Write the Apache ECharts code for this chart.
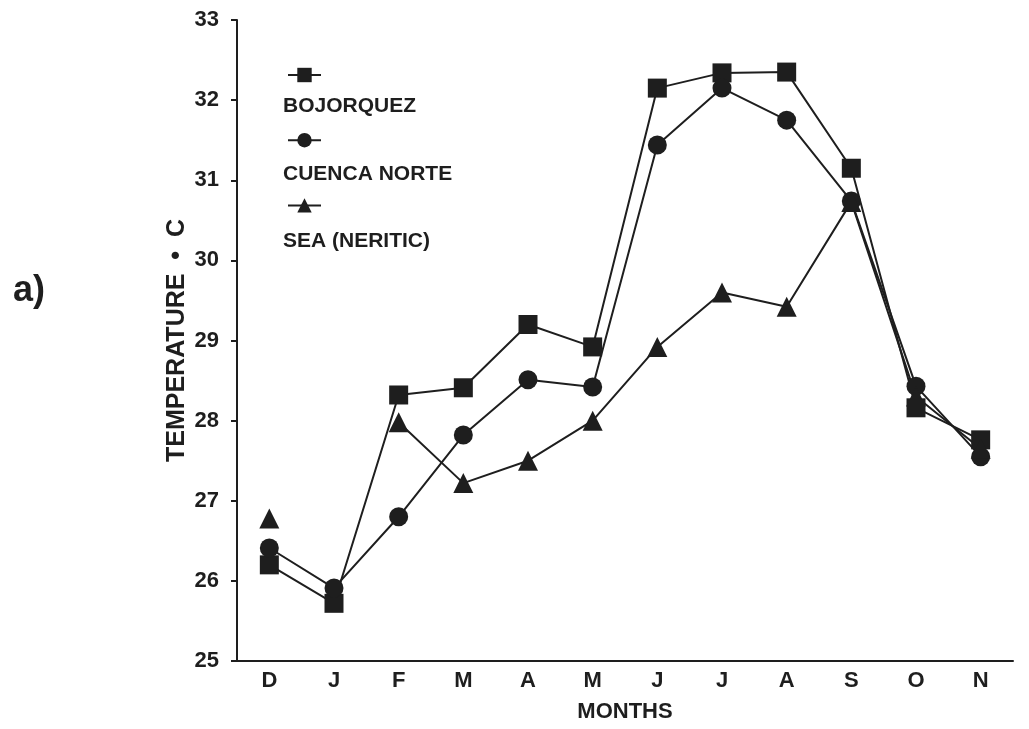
<!DOCTYPE html>
<html>
<head>
<meta charset="utf-8">
<script src="https://cdn.jsdelivr.net/npm/echarts@6/dist/echarts.min.js"></script>
<style>
html,body{margin:0;padding:0;background:#fff;}
#c{width:1029px;height:729px;}
</style>
</head>
<body>
<div id="c"></div>
<script>
var months = ['D','J','F','M','A','M','J','J','A','S','O','N'];
var yTicks = [25,26,27,28,29,30,31,32,33];
var bojorquez = [26.2, 25.72, 28.32, 28.41, 29.2, 28.92, 32.15, 32.34, 32.35, 31.15, 28.16, 27.76];
var cuencaNorte = [26.41, 25.91, 26.8, 27.82, 28.51, 28.42, 31.44, 32.15, 31.75, 30.74, 28.43, 27.55];
var seaNeritic = [26.78, null, 27.98, 27.22, 27.5, 28.0, 28.92, 29.6, 29.42, 30.73, 28.3, 27.65];
var seriesNames = ['BOJORQUEZ', 'CUENCA NORTE', 'SEA (NERITIC)'];

var ink = '#1e1e1e';
var font = '"Liberation Sans", Arial, sans-serif';

function mkSeries(name, data, symbol, size) {
  return {
    name: name, type: 'line', data: data, symbol: symbol, symbolSize: size,
    showAllSymbol: true, connectNulls: false,
    lineStyle: {color: ink, width: 2},
    itemStyle: {color: ink, borderWidth: 0},
    emphasis: {disabled: true}
  };
}

var chart = echarts.init(document.getElementById('c'), null, {renderer: 'canvas'});
chart.setOption({
  animation: false,
  backgroundColor: '#fff',
  title: {
    text: 'a)', left: 8, top: 268,
    textStyle: {fontFamily: font, fontWeight: 'bold', fontSize: 36, color: ink}
  },
  grid: {left: 237, right: 16, top: 20, bottom: 68, containLabel: false},
  legend: {
    orient: 'vertical', left: 282, top: 61, itemGap: 49,
    itemWidth: 33, itemHeight: 18,
    data: seriesNames,
    formatter: function () { return ''; },
    textStyle: {fontSize: 1},
    selectedMode: false
  },
  graphic: seriesNames.map(function (n, i) {
    return {
      type: 'text', left: 283, top: 96 + i * 67.5,
      style: {text: n, fontFamily: font, fontWeight: 'bold', fontSize: 21, fill: ink}
    };
  }),
  xAxis: {
    type: 'category', data: months, boundaryGap: true,
    name: 'MONTHS', nameLocation: 'middle', nameGap: 40,
    nameTextStyle: {fontFamily: font, fontWeight: 'bold', fontSize: 22, color: ink},
    axisLine: {lineStyle: {color: ink, width: 2}},
    axisTick: {alignWithLabel: true, length: 6, lineStyle: {color: ink, width: 2}},
    axisLabel: {margin: 9, fontFamily: font, fontWeight: 'bold', fontSize: 22, color: ink},
    splitLine: {show: false}
  },
  yAxis: {
    type: 'value', min: yTicks[0], max: yTicks[yTicks.length - 1], interval: 1,
    name: 'TEMPERATURE  •  C', nameLocation: 'middle', nameGap: 47, nameRotate: 90,
    nameMoveOverlap: false,
    nameTextStyle: {fontFamily: font, fontWeight: 'bold', fontSize: 25, color: ink},
    axisLine: {show: true, lineStyle: {color: ink, width: 2}},
    axisTick: {show: true, length: 6, lineStyle: {color: ink, width: 2}},
    axisLabel: {margin: 18, fontFamily: font, fontWeight: 'bold', fontSize: 22, color: ink},
    splitLine: {show: false}
  },
  series: [
    mkSeries(seriesNames[0], bojorquez, 'rect', 19),
    mkSeries(seriesNames[1], cuencaNorte, 'circle', 19),
    mkSeries(seriesNames[2], seaNeritic, 'triangle', 20)
  ]
});
</script>
</body>
</html>
